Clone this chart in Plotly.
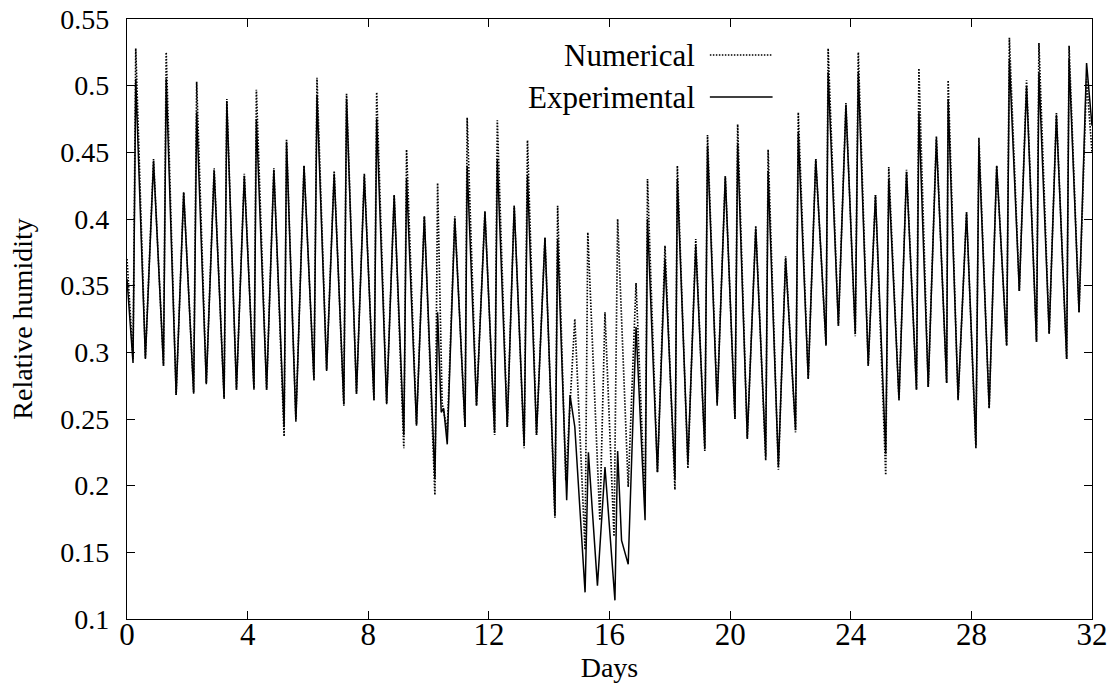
import plotly.graph_objects as go

# ---------------- data ----------------
days_num = [0.00, 0.20, 0.29, 0.61, 0.88, 1.21, 1.30, 1.63, 1.88, 2.21, 2.31, 2.63, 2.89,
            3.22, 3.31, 3.63, 3.89, 4.21, 4.29, 4.63, 4.87, 5.21, 5.29, 5.60, 5.87,
            6.20, 6.30, 6.62, 6.87, 7.19, 7.28, 7.61, 7.87, 8.19, 8.28, 8.61, 8.86,
            9.18, 9.27, 9.60, 9.86, 10.21, 10.30, 10.45, 10.55, 10.62, 10.87,
            11.21, 11.28, 11.59, 11.87, 12.19, 12.28, 12.61, 12.84, 13.17, 13.28, 13.58, 13.86,
            14.19, 14.28, 14.55, 14.85, 15.19, 15.28, 15.68, 15.85, 16.15, 16.27, 16.62, 16.88,
            17.18, 17.26, 17.59, 17.84, 18.17, 18.25, 18.60, 18.86, 19.16, 19.25, 19.57, 19.84,
            20.16, 20.25, 20.57, 20.85, 21.18, 21.26, 21.60, 21.84, 22.17, 22.26, 22.59, 22.84,
            23.18, 23.25, 23.59, 23.84, 24.15, 24.25, 24.58, 24.82, 25.16, 25.26, 25.60, 25.85,
            26.18, 26.26, 26.57, 26.84, 27.18, 27.23, 27.56, 27.84, 28.15, 28.25, 28.59, 28.84,
            29.17, 29.26, 29.59, 29.83, 30.16, 30.24, 30.58, 30.82, 31.16, 31.24, 31.57, 31.82, 32.00]
rh_num = [0.370, 0.295, 0.528, 0.296, 0.445, 0.290, 0.525, 0.268, 0.420, 0.270, 0.503, 0.277, 0.438,
          0.266, 0.490, 0.272, 0.434, 0.273, 0.497, 0.272, 0.438, 0.237, 0.460, 0.250, 0.440,
          0.279, 0.506, 0.287, 0.436, 0.260, 0.494, 0.269, 0.434, 0.264, 0.495, 0.262, 0.418,
          0.228, 0.452, 0.246, 0.402, 0.193, 0.427, 0.262, 0.250, 0.240, 0.402,
          0.244, 0.476, 0.260, 0.406, 0.238, 0.474, 0.244, 0.410, 0.228, 0.459, 0.238, 0.386,
          0.176, 0.410, 0.204, 0.325, 0.152, 0.390, 0.174, 0.330, 0.162, 0.400, 0.199, 0.352,
          0.184, 0.430, 0.210, 0.380, 0.197, 0.440, 0.213, 0.385, 0.226, 0.463, 0.262, 0.432,
          0.250, 0.471, 0.235, 0.395, 0.219, 0.452, 0.212, 0.372, 0.240, 0.480, 0.280, 0.445,
          0.305, 0.528, 0.320, 0.487, 0.312, 0.525, 0.290, 0.418, 0.208, 0.439, 0.264, 0.437,
          0.272, 0.513, 0.274, 0.462, 0.277, 0.504, 0.264, 0.405, 0.228, 0.461, 0.258, 0.440,
          0.305, 0.536, 0.346, 0.504, 0.308, 0.532, 0.314, 0.480, 0.295, 0.530, 0.330, 0.505, 0.450]

days_exp = [0.00, 0.20, 0.29, 0.61, 0.88, 1.21, 1.30, 1.63, 1.88, 2.21, 2.31, 2.63, 2.89,
            3.22, 3.31, 3.63, 3.89, 4.21, 4.29, 4.63, 4.87, 5.21, 5.29, 5.60, 5.87,
            6.20, 6.30, 6.62, 6.87, 7.19, 7.28, 7.61, 7.87, 8.19, 8.28, 8.61, 8.86,
            9.18, 9.27, 9.60, 9.86, 10.21, 10.30, 10.42, 10.50, 10.62, 10.87,
            11.21, 11.28, 11.59, 11.87, 12.19, 12.28, 12.61, 12.84, 13.17, 13.28, 13.58, 13.86,
            14.19, 14.28, 14.58, 14.69, 14.85, 15.19, 15.30, 15.60, 15.85, 16.18,
            16.27, 16.40, 16.62, 16.88, 17.18, 17.26, 17.59, 17.84, 18.17,
            18.25, 18.60, 18.86, 19.16, 19.25, 19.57, 19.84, 20.16, 20.25, 20.57, 20.85, 21.18,
            21.26, 21.60, 21.84, 22.17, 22.26, 22.59, 22.84, 23.18, 23.25, 23.59, 23.84, 24.15,
            24.25, 24.58, 24.82, 25.16, 25.26, 25.60, 25.85, 26.18, 26.26, 26.57, 26.84, 27.18,
            27.23, 27.56, 27.84, 28.15, 28.25, 28.59, 28.84, 29.17, 29.26, 29.59, 29.83, 30.16,
            30.24, 30.58, 30.82, 31.16, 31.24, 31.57, 31.82, 32.00]
rh_exp = [0.355, 0.292, 0.505, 0.295, 0.443, 0.290, 0.505, 0.268, 0.420, 0.269, 0.480, 0.276, 0.436,
          0.265, 0.488, 0.272, 0.432, 0.272, 0.475, 0.272, 0.437, 0.244, 0.458, 0.248, 0.440,
          0.279, 0.493, 0.286, 0.434, 0.261, 0.490, 0.269, 0.432, 0.264, 0.475, 0.261, 0.418,
          0.238, 0.430, 0.245, 0.402, 0.205, 0.330, 0.255, 0.258, 0.231, 0.400,
          0.244, 0.440, 0.260, 0.405, 0.240, 0.445, 0.244, 0.410, 0.230, 0.433, 0.238, 0.386,
          0.178, 0.385, 0.189, 0.268, 0.244, 0.120, 0.225, 0.125, 0.214, 0.114,
          0.226, 0.159, 0.141, 0.319, 0.174, 0.400, 0.210, 0.370, 0.205,
          0.430, 0.217, 0.380, 0.228, 0.455, 0.260, 0.432, 0.250, 0.456, 0.236, 0.393, 0.222,
          0.436, 0.214, 0.370, 0.242, 0.465, 0.280, 0.445, 0.306, 0.510, 0.320, 0.485, 0.314,
          0.510, 0.290, 0.418, 0.224, 0.430, 0.264, 0.435, 0.272, 0.480, 0.274, 0.460, 0.277,
          0.490, 0.265, 0.405, 0.230, 0.455, 0.258, 0.440, 0.305, 0.520, 0.346, 0.500, 0.308,
          0.510, 0.314, 0.478, 0.295, 0.520, 0.330, 0.517, 0.470]

x_ticks = [0, 4, 8, 12, 16, 20, 24, 28, 32]
x_tick_labels = ["0", "4", "8", "12", "16", "20", "24", "28", "32"]
y_ticks = [0.10, 0.15, 0.20, 0.25, 0.30, 0.35, 0.40, 0.45, 0.50, 0.55]
y_tick_labels = ["0.1", "0.15", "0.2", "0.25", "0.3", "0.35", "0.4", "0.45", "0.5", "0.55"]

series_names = ["Numerical", "Experimental"]

# ---------------- figure ----------------
FONT = "Liberation Serif, Times New Roman, serif"
DOT = "1.5px,1.5px"

fig = go.Figure()
fig.add_trace(go.Scatter(x=days_num, y=rh_num, mode="lines", name=series_names[0],
                         line=dict(color="black", width=1.7, dash=DOT),
                         showlegend=False))
fig.add_trace(go.Scatter(x=days_exp, y=rh_exp, mode="lines", name=series_names[1],
                         line=dict(color="black", width=1.5),
                         showlegend=False))

axis_common = dict(
    showline=True, linecolor="black", linewidth=1.4, mirror="ticks",
    ticks="inside", ticklen=8, tickwidth=1.4, tickcolor="black",
    showgrid=False, zeroline=False, ticklabeloverflow="allow",
)

fig.update_xaxes(range=[0, 32], tickvals=x_ticks, ticktext=x_tick_labels,
                 tickfont=dict(family=FONT, size=31, color="black"),
                 title=dict(text="Days", font=dict(family=FONT, size=28, color="black"), standoff=2),
                 automargin=False, ticklabelstandoff=-12, **axis_common)
fig.update_yaxes(range=[0.1, 0.55], tickvals=y_ticks, ticktext=y_tick_labels,
                 tickfont=dict(family=FONT, size=28, color="black"),
                 title=dict(text="Relative humidity", font=dict(family=FONT, size=28, color="black"),
                            standoff=19),
                 automargin=False, ticklabelstandoff=11, **axis_common)

# legend drawn gnuplot-style: text on the left, line sample on the right
legend_rows = [(series_names[0], 0.94, DOT, 1.7), (series_names[1], 0.87, "solid", 1.5)]
for text, yp, dash, w in legend_rows:
    fig.add_annotation(x=0.591, y=yp, xref="paper", yref="paper", text=text, showarrow=False,
                       xanchor="right", yanchor="middle",
                       font=dict(family=FONT, size=31, color="black"))
    fig.add_shape(type="line", xref="paper", yref="paper", x0=0.604, x1=0.669, y0=yp, y1=yp,
                  line=dict(color="black", width=w, dash=dash))

fig.update_layout(
    width=1117, height=687,
    margin=dict(l=127, r=25, t=19, b=68),
    paper_bgcolor="white", plot_bgcolor="white",
    font=dict(family=FONT, color="black"),
)

# remove the browser's default 8px body margin so the figure fills the window
fig.write_html("out.html", config={"displayModeBar": False},
               post_script="document.body.style.margin='0px';")
